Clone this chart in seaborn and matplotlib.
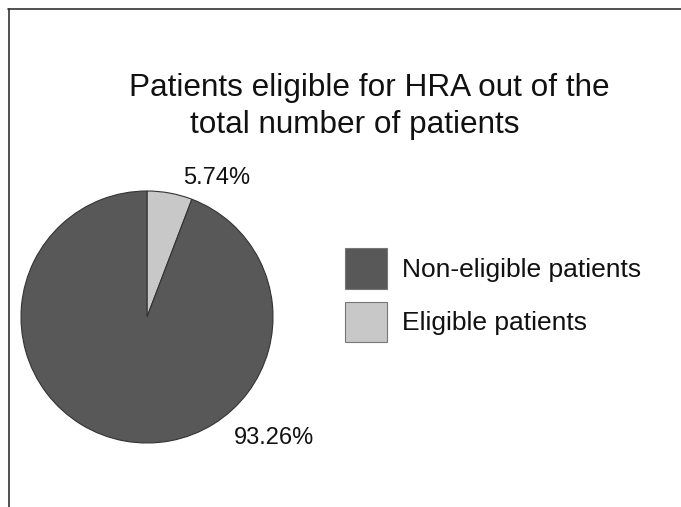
import matplotlib
matplotlib.use("Agg")
import matplotlib.pyplot as plt
from matplotlib.patches import Patch
from matplotlib.lines import Line2D
import seaborn as sns

# Datos del gráfico
categories = ["Non-eligible patients", "Eligible patients"]
values = [93.26, 5.74]
pct_labels = ["93.26%", "5.74%"]
colors = ["#585858", "#c8c8c8"]
title_lines = ["Patients eligible for HRA out of the", "total number of patients"]

sns.set_theme(style="white")
plt.rcParams['font.family'] = ['Liberation Sans', 'DejaVu Sans']

fig = plt.figure(figsize=(6.81, 5.07), dpi=100)
fig.patch.set_facecolor("white")

# Ejes del pastel (cuadrados en píxeles)
ax = fig.add_axes([21 / 681, 64 / 507, 252 / 681, 252 / 507])

# Pastel: la porción pequeña empieza arriba y va en sentido horario
wedges, _ = ax.pie(
    values[::-1],
    colors=colors[::-1],
    startangle=90,
    counterclock=False,
    radius=1,
    wedgeprops=dict(edgecolor="#333333", linewidth=0.8),
)
ax.set_xlim(-1, 1)
ax.set_ylim(-1, 1)
ax.set_aspect("equal")
ax.axis("off")

# Etiquetas de porcentaje
ax.text(0.556, 1.103, pct_labels[1], ha="center", va="center", fontsize=17, color="#111111")
ax.text(1.008, -0.96, pct_labels[0], ha="center", va="center", fontsize=17, color="#111111")

# Título (dos líneas, la segunda algo desplazada a la izquierda)
fig.text(369 / 681, 1 - 88 / 507, title_lines[0], ha="center", va="center",
         fontsize=22.7, color="#111111")
fig.text(355 / 681, 1 - 125 / 507, title_lines[1], ha="center", va="center",
         fontsize=22.7, color="#111111")

# Leyenda
handles = [Patch(facecolor=c, edgecolor="#777777", linewidth=0.8) for c in colors]
fig.legend(handles, categories, loc="upper left",
           bbox_to_anchor=(345 / 681, 1 - 248 / 507),
           frameon=False, fontsize=19, handlelength=1.6, handleheight=2.0,
           handletextpad=0.57, labelspacing=0.49, borderpad=0, borderaxespad=0,
           labelcolor="#111111")

# Marco recortado (arriba e izquierda)
fig.add_artist(Line2D([8 / 681, 1], [1 - 9 / 507, 1 - 9 / 507],
                      transform=fig.transFigure, color="#333333", linewidth=1.2))
fig.add_artist(Line2D([9 / 681, 9 / 681], [0, 1 - 9 / 507],
                      transform=fig.transFigure, color="#333333", linewidth=1.2))

fig.savefig("out.png", dpi=100)
plt.close(fig)
